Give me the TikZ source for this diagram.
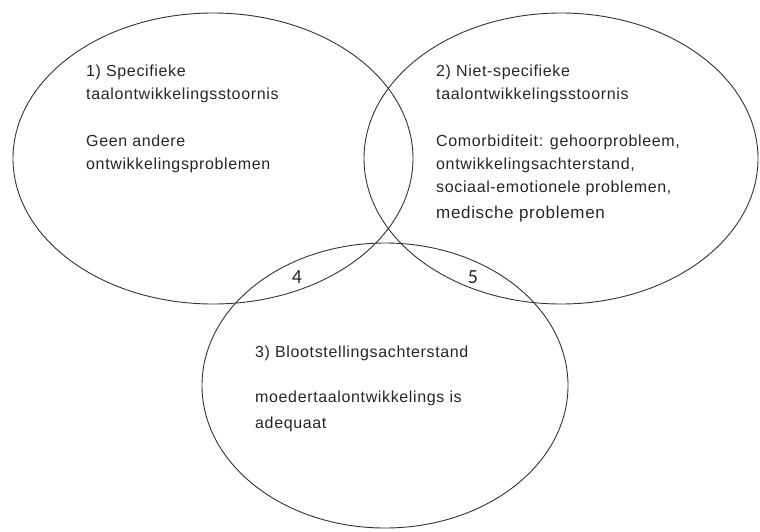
\documentclass[tikz,border=0pt]{standalone}
\usepackage{fontspec}
\setmainfont{Liberation Sans}
\newfontfamily\numfont{Carlito}
\usetikzlibrary{shapes.geometric}

\begin{document}
\begin{tikzpicture}[x=1pt,y=-1pt,
    set/.style={draw=black!80,line width=0.9pt,ellipse,inner sep=0pt},
    txt/.style={anchor=base west,align=left,inner sep=0pt,text=black!85,
      font=\fontsize{16}{23}\selectfont\addfontfeature{LetterSpace=4}},
    num/.style={inner sep=0pt,text=black!85,font=\fontsize{20}{22}\selectfont\numfont}
  ]
  \useasboundingbox (0,0) rectangle (760,531);
  % the three sets
  \node[set,minimum width=400,minimum height=291] (spec) at (213,158.5) {};
  \node[set,minimum width=394,minimum height=291] (niet) at (561,158.5) {};
  \node[set,minimum width=366,minimum height=285] (bloot) at (385,385.5) {};
  % texts (placed at the baseline of their last line)
  \node[txt] (t1) at (86,99) {1) Specifieke\\taalontwikkelingsstoornis};
  \node[txt] (b1) at (86,169) {Geen andere\\ontwikkelingsproblemen};
  \node[txt] (t2) at (436,99) {2) Niet-specifieke\\taalontwikkelingsstoornis};
  \node[txt] (b2) at (436,218) {Comorbiditeit: gehoorprobleem,\\
    ontwikkelingsachterstand,\\
    sociaal-emotionele problemen,\\[3pt]
    {\fontsize{17}{20}\selectfont medische problemen}};
  \node[txt] (t3) at (255,357) {3) Blootstellingsachterstand};
  \node[txt] (b3) at (255,428) {moedertaalontwikkelings is\\[3pt]adequaat};
  % overlaps
  \node[num] (n4) at (297,277) {4};
  \node[num] (n5) at (473,277) {5};
\end{tikzpicture}
\end{document}
